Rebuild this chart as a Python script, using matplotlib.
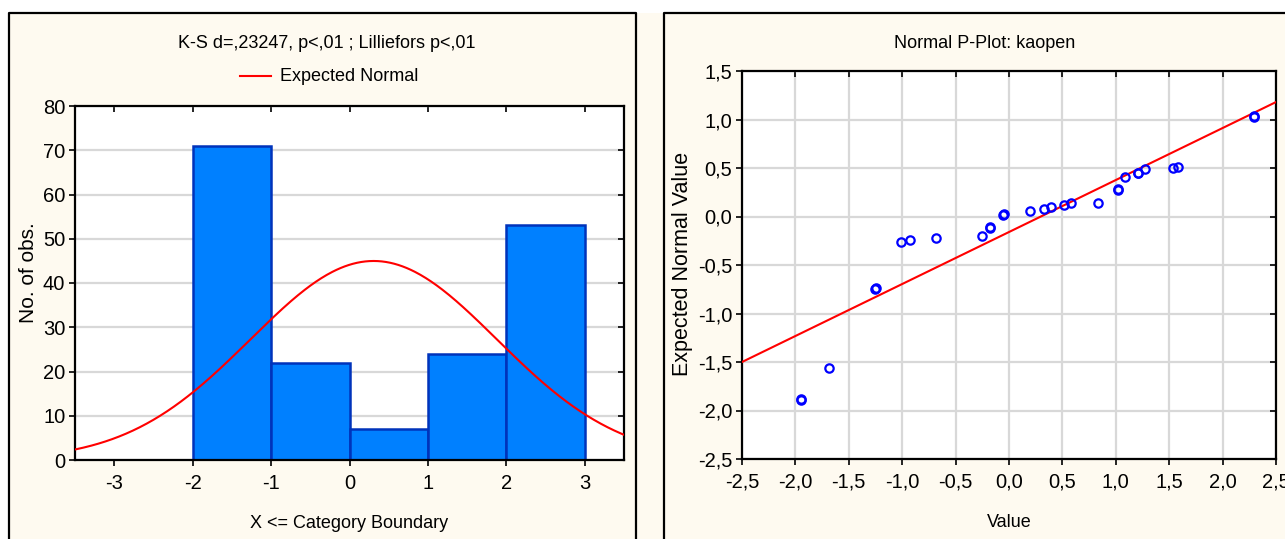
import numpy as np
import matplotlib
matplotlib.use("Agg")
from matplotlib import pyplot as plt
from matplotlib.patches import Rectangle
from matplotlib.lines import Line2D
from matplotlib.ticker import FuncFormatter, MultipleLocator

plt.rcParams["axes.unicode_minus"] = False
NARROW = ["Liberation Sans Narrow", "Liberation Sans", "DejaVu Sans"]
REGULAR = ["Liberation Sans", "DejaVu Sans"]

# histogram of kaopen (category boundaries and counts)
bin_edges = [-2, -1, 0, 1, 2, 3]
counts = [71, 22, 7, 24, 53]
fit_mean = 0.308
fit_sd = 1.57

# normal P-plot points (value, expected normal value)
pp_value = [-1.947, -1.944, -1.683, -1.253, -1.250, -1.007, -0.929, -0.683,
            -0.254, -0.179, -0.176, -0.052, -0.049, 0.194, 0.328, 0.393,
            0.515, 0.580, 0.838, 1.019, 1.022, 1.087, 1.206, 1.209, 1.271,
            1.531, 1.587, 2.290, 2.293]
pp_expected = [-1.885, -1.895, -1.560, -0.744, -0.734, -0.266, -0.242, -0.222,
               -0.204, -0.115, -0.105, 0.015, 0.025, 0.060, 0.077, 0.101,
               0.119, 0.139, 0.143, 0.273, 0.283, 0.404, 0.445, 0.452, 0.490,
               0.497, 0.510, 1.024, 1.034]
ref_line_x = [-2.5, 2.5]
ref_line_y = [-1.5, 1.18]

W, H = 1285, 539
CREAM = "#FEFAF0"
GRID = "#D8D8D8"


def px_axes(fig, x0, y0, x1, y1):
    # pixel box (top-left origin) -> figure axes
    return fig.add_axes([x0 / W, 1 - y1 / H, (x1 - x0) / W, (y1 - y0) / H])


def style_axes(ax):
    ax.set_facecolor("white")
    for spine in ax.spines.values():
        spine.set_linewidth(1.6)
        spine.set_color("black")
    ax.tick_params(which="both", top=True, right=True, length=4, width=1.2,
                   labelsize=14.5, direction="out")
    ax.tick_params(axis="x", pad=6)
    ax.tick_params(axis="y", pad=3)
    for t in ax.xaxis.get_major_ticks():
        t.tick2line.set_marker(3)  # inward top tick
    for t in ax.yaxis.get_major_ticks():
        t.tick2line.set_marker(0)  # inward right tick
    for lab in ax.get_xticklabels() + ax.get_yticklabels():
        lab.set_family(NARROW)


def ylabel_at(ax, x_px, y_px):
    # y label anchor (its right side once rotated) at a pixel spot of the figure
    pos = ax.get_position()
    ax.yaxis.set_label_coords((x_px / W - pos.x0) / pos.width,
                              ((1 - y_px / H) - pos.y0) / pos.height)


fig = plt.figure(figsize=(W / 100, H / 100), dpi=100)
fig.patch.set_facecolor("white")
fig.add_artist(Rectangle((9 / W, 0), 1 - 9 / W, 1 - 13 / H, transform=fig.transFigure,
                         facecolor=CREAM, edgecolor="none", zorder=0))
border = dict(color="black", linewidth=1.6, transform=fig.transFigure)
fig.add_artist(Line2D([9 / W, 9 / W, 636 / W, 636 / W], [0, 1 - 13 / H, 1 - 13 / H, 0], **border))
fig.add_artist(Line2D([664 / W, 664 / W, 1], [0, 1 - 13 / H, 1 - 13 / H], **border))

# ---- left: histogram ----
ax1 = px_axes(fig, 75, 106, 624, 460)
widths = np.diff(bin_edges)
ax1.bar(bin_edges[:-1], counts, width=widths, align="edge", color="#0080FF",
        edgecolor="#0033BB", linewidth=1.8, zorder=2)
xs = np.linspace(-3.5, 3.5, 400)
n_obs = sum(counts)
curve = n_obs * 1.0 / (fit_sd * np.sqrt(2 * np.pi)) * np.exp(-0.5 * ((xs - fit_mean) / fit_sd) ** 2)
ax1.plot(xs, curve, color="#FF0000", linewidth=1.5, zorder=3)
ax1.set_xlim(-3.5, 3.5)
ax1.set_ylim(0, 80)
ax1.xaxis.set_major_locator(MultipleLocator(1))
ax1.yaxis.set_major_locator(MultipleLocator(10))
ax1.yaxis.grid(True, color=GRID, linewidth=1.6, zorder=0)
ax1.set_axisbelow(True)
ax1.xaxis.set_major_formatter(FuncFormatter(lambda v, p: f"{v:.0f}"))
style_axes(ax1)
ax1.set_xlabel("X <= Category Boundary", fontsize=13, family=NARROW, labelpad=16)
ax1.set_ylabel("No. of obs.", fontsize=15, family=REGULAR)
ylabel_at(ax1, 38, 273)

fig.text(327 / W, 1 - 43 / H, "K-S d=,23247, p<,01 ; Lilliefors p<,01", ha="center",
         va="center", fontsize=13, family=NARROW)
fig.add_artist(Line2D([240 / W, 271 / W], [1 - 76 / H, 1 - 76 / H], color="#FF0000",
                      linewidth=1.5, transform=fig.transFigure))
fig.text(280 / W, 1 - 77 / H, "Expected Normal", ha="left", va="center",
         fontsize=13, family=NARROW)

# ---- right: normal P-plot ----
ax2 = px_axes(fig, 742, 71, 1276, 459)
ax2.plot(ref_line_x, ref_line_y, color="#FF0000", linewidth=1.5, zorder=3)
ax2.plot(pp_value, pp_expected, linestyle="none", marker="o", markersize=6,
         markerfacecolor="none", markeredgecolor="#0000FF", markeredgewidth=1.6,
         zorder=4, clip_on=False)
ax2.set_xlim(-2.5, 2.5)
ax2.set_ylim(-2.5, 1.5)
ax2.xaxis.set_major_locator(MultipleLocator(0.5))
ax2.yaxis.set_major_locator(MultipleLocator(0.5))
comma = FuncFormatter(lambda v, p: f"{v:.1f}".replace(".", ","))
ax2.xaxis.set_major_formatter(comma)
ax2.yaxis.set_major_formatter(comma)
ax2.grid(True, color=GRID, linewidth=1.6, zorder=0)
ax2.set_axisbelow(True)
style_axes(ax2)
ax2.set_xlabel("Value", fontsize=13, family=NARROW, labelpad=16)
ax2.set_ylabel("Expected Normal Value", fontsize=15.5, family=REGULAR)
ylabel_at(ax2, 693, 264)

fig.text(985 / W, 1 - 43 / H, "Normal P-Plot: kaopen", ha="center", va="center",
         fontsize=13, family=NARROW)

fig.savefig("out.png", dpi=100, facecolor=fig.get_facecolor())
